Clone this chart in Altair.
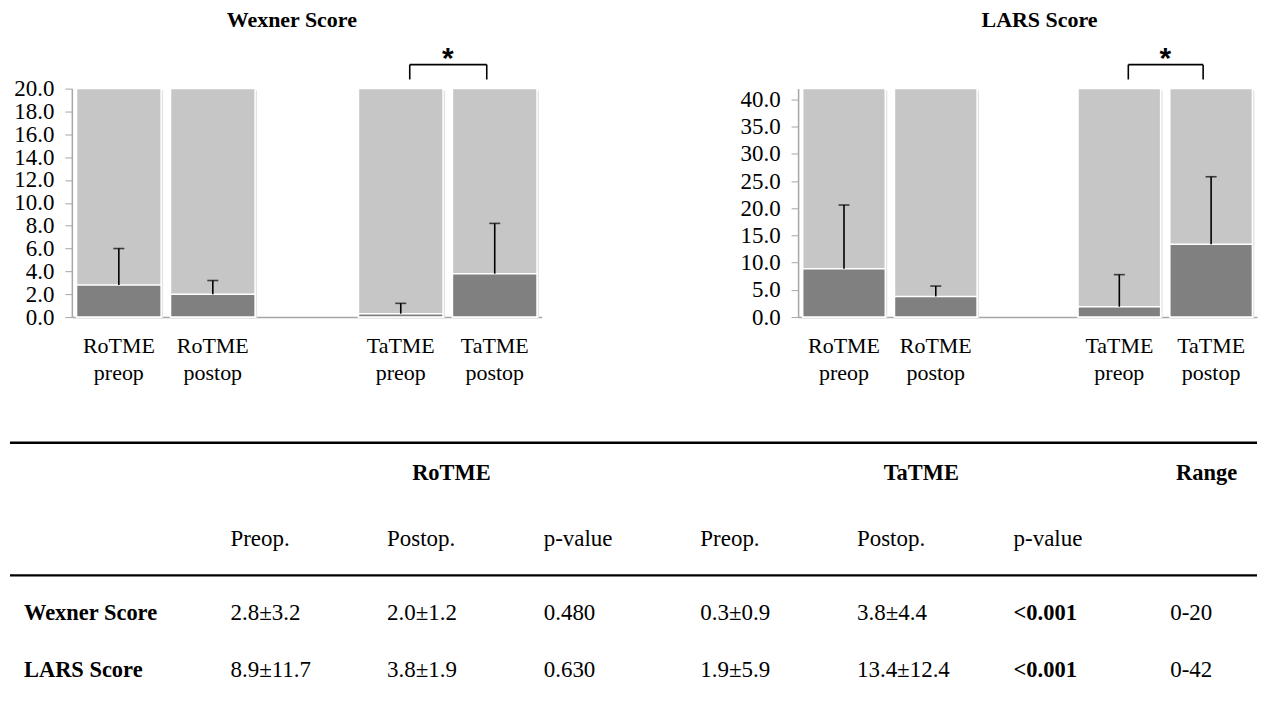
import altair as alt
import pandas as pd

# ---------------- data ----------------
slots = ["RoTME preop", "RoTME postop", "gap", "TaTME preop", "TaTME postop"]
groups = ["RoTME preop", "RoTME postop", "TaTME preop", "TaTME postop"]
wexner_mean = [2.8, 2.0, 0.3, 3.8]
wexner_sd = [3.2, 1.2, 0.9, 4.4]
wexner_max = 20
wexner_ticks = [0, 2, 4, 6, 8, 10, 12, 14, 16, 18, 20]
lars_mean = [8.9, 3.8, 1.9, 13.4]
lars_sd = [11.7, 1.9, 5.9, 12.4]
lars_max = 42
lars_ticks = [0, 5, 10, 15, 20, 25, 30, 35, 40]
sig_pair = ["TaTME preop", "TaTME postop"]

table_rows = ["Wexner Score", "LARS Score"]
rotme_pre = ["2.8±3.2", "8.9±11.7"]
rotme_post = ["2.0±1.2", "3.8±1.9"]
rotme_p = ["0.480", "0.630"]
tatme_pre = ["0.3±0.9", "1.9±5.9"]
tatme_post = ["3.8±4.4", "13.4±12.4"]
tatme_p = ["<0.001", "<0.001"]
score_range = ["0-20", "0-42"]
group_headers = ["RoTME", "TaTME", "Range"]
group_span_center = [2.5, 5.5, 7.5]
sub_headers = ["Preop.", "Postop.", "p-value", "Preop.", "Postop.", "p-value"]

# ---------------- style ----------------
SERIF = "Liberation Serif"
LIGHT = "#c6c6c6"
DARK = "#808080"
AXIS = "#a6a6a6"
SHADOW = "#e2e2e2"
TABLE_W = 1188


def panel(title, means, sds, vmax, ticks, width, title_dx):
    df = pd.DataFrame({"cat": groups, "mean": means, "sd": sds})
    df["top"] = df["mean"] + df["sd"]
    df["max"] = vmax
    xs = alt.Scale(domain=slots, paddingInner=0.1, paddingOuter=0.05)
    ys = alt.Scale(domain=[0, vmax], nice=False, zero=True)
    xaxis = alt.Axis(
        title=None, labelAngle=0, ticks=False, domainColor=AXIS, domainWidth=1.5,
        labelFont=SERIF, labelFontSize=22, labelColor="black", labelPadding=19,
        labelLineHeight=27,
        labelExpr="datum.value == 'gap' ? '' : split(datum.value, ' ')",
    )
    yaxis = alt.Axis(
        title=None, values=ticks, format=".1f", grid=False, domainColor=AXIS,
        domainWidth=1.5, tickColor=AXIS, tickSize=7, labelFont=SERIF,
        labelFontSize=23, labelColor="black", labelPadding=11, labelOverlap=False,
        minExtent=62,
    )

    def X(f):
        return alt.X(f, scale=xs, axis=xaxis)

    def Y(f):
        return alt.Y(f, scale=ys, axis=yaxis)

    base = alt.Chart(df)
    shadow = base.mark_bar(color=SHADOW, xOffset=2, x2Offset=2, yOffset=2, y2Offset=2).encode(
        x=X("cat:N"), y=Y("max:Q"))
    bg = base.mark_bar(color=LIGHT, stroke="white", strokeWidth=1.5).encode(x=X("cat:N"), y=Y("max:Q"))
    fg = base.mark_bar(color=DARK, stroke="white", strokeWidth=1.5).encode(x=X("cat:N"), y=Y("mean:Q"))
    err = base.mark_rule(color="black", strokeWidth=1.6).encode(x=X("cat:N"), y=Y("mean:Q"), y2="top:Q")
    cap = base.mark_tick(color="black", thickness=1.6, size=11).encode(x=X("cat:N"), y=Y("top:Q"))
    bdf = pd.DataFrame({"a": [sig_pair[0]], "b": [sig_pair[1]],
                        "lo": [vmax * 1.04], "hi": [vmax * 1.105], "star": [vmax * 1.15]})
    bch = alt.Chart(bdf)
    bh = bch.mark_rule(color="black", strokeWidth=1.6, xOffset=9, x2Offset=-8).encode(
        x=X("a:N"), x2="b:N", y=Y("hi:Q"))
    bl = bch.mark_rule(color="black", strokeWidth=1.6, xOffset=9).encode(
        x=X("a:N"), y=Y("lo:Q"), y2="hi:Q")
    br = bch.mark_rule(color="black", strokeWidth=1.6, xOffset=-8).encode(
        x=X("b:N"), y=Y("lo:Q"), y2="hi:Q")
    star = bch.mark_text(text="*", font="Liberation Sans", fontSize=30, fontWeight="bold",
                         baseline="middle", dx=width / 10, dy=5, color="black").encode(
        x=X("a:N"), y=Y("star:Q"))
    return alt.layer(shadow, bg, fg, err, cap, bh, bl, br, star).properties(
        width=width, height=229,
        title=alt.TitleParams(text=title, font=SERIF, fontSize=22, fontWeight="bold",
                              color="black", dx=title_dx, offset=12),
    )


wex = panel("Wexner Score", wexner_mean, wexner_sd, wexner_max, wexner_ticks, 471, -15)
lars = panel("LARS Score", lars_mean, lars_sd, lars_max, lars_ticks, 460, 12)

# ---------------- table ----------------
cells = []
value_cols = [rotme_pre, rotme_post, rotme_p, tatme_pre, tatme_post, tatme_p, score_range]
for i, lab in enumerate(table_rows):
    r = 4 + i
    cells.append({"text": lab, "col": 0, "row": r, "bold": True})
    for k, col in enumerate(value_cols):
        v = col[i]
        cells.append({"text": v, "col": k + 1, "row": r, "bold": v.startswith("<")})
for k, h in enumerate(sub_headers):
    cells.append({"text": h, "col": k + 1, "row": 2, "bold": False})
cdf = pd.DataFrame(cells)
hdf = pd.DataFrame({"text": group_headers, "col": group_span_center, "row": [1, 1, 1]})
ldf = pd.DataFrame({"row": [0, 3], "c0": [0, 0], "c1": [8, 8], "w": [2.5, 2.2]})

tx = alt.Scale(domain=[0, 1, 7, 8], range=[-62, 145, 1087, TABLE_W], nice=False, zero=False)
ty = alt.Scale(domain=[0, 1, 2, 3, 4, 5], range=[0, 30, 96, 133, 171, 228], nice=False, zero=False)


def TX(f):
    return alt.X(f, scale=tx, axis=None)


def TY(f):
    return alt.Y(f, scale=ty, axis=None)


tbase = alt.Chart(cdf)
t_norm = tbase.transform_filter("!datum.bold").mark_text(
    align="left", baseline="middle", dx=14, font=SERIF, fontSize=23, color="black"
).encode(x=TX("col:Q"), y=TY("row:Q"), text="text:N")
t_bold = tbase.transform_filter("datum.bold").mark_text(
    align="left", baseline="middle", dx=14, font=SERIF, fontSize=22.5, fontWeight="bold", color="black"
).encode(x=TX("col:Q"), y=TY("row:Q"), text="text:N")
t_head = alt.Chart(hdf).mark_text(
    align="center", baseline="middle", font=SERIF, fontSize=22.5, fontWeight="bold", color="black"
).encode(x=TX("col:Q"), y=TY("row:Q"), text="text:N")
t_lines = alt.Chart(ldf).mark_rule(color="black").encode(
    x=TX("c0:Q"), x2="c1:Q", y=TY("row:Q"),
    strokeWidth=alt.StrokeWidth("w:Q", scale=None),
)
table = alt.layer(t_lines, t_norm, t_bold, t_head).properties(width=TABLE_W, height=240)

chart = alt.vconcat(
    alt.hconcat(wex, lars, spacing=195),
    table,
    spacing=57,
).properties(padding={"left": 0, "top": 0, "right": 0, "bottom": 0}).configure_view(stroke=None)

chart.save("out.html", embed_options={"renderer": "svg", "actions": False})
